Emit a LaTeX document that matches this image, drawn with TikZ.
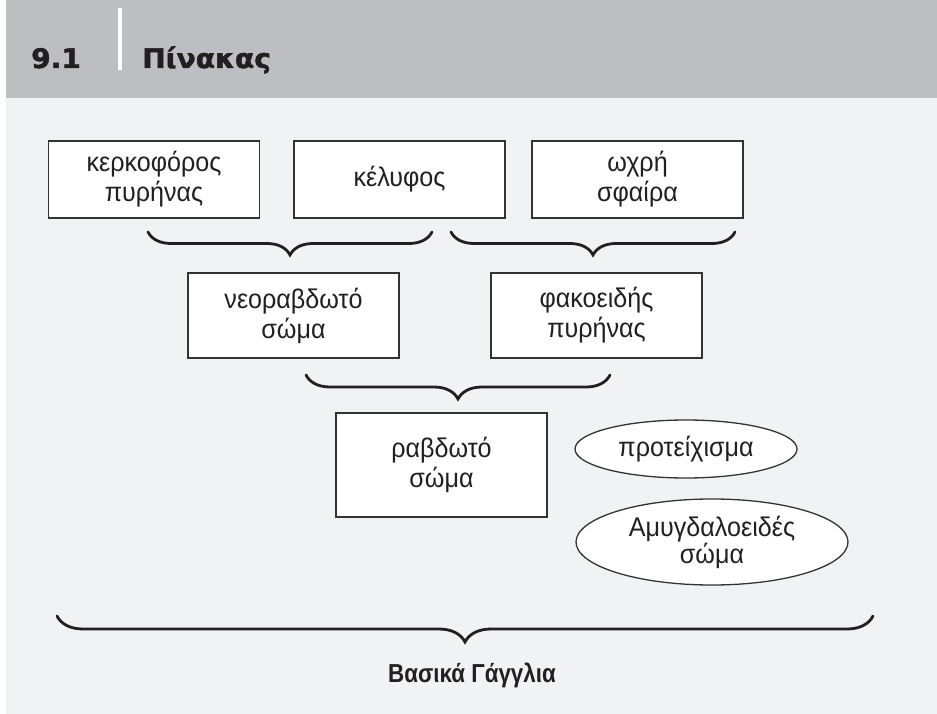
\documentclass[tikz,border=0pt]{standalone}
\usepackage{fontspec}
\setmainfont{Liberation Sans}[FakeStretch=0.93]
\newfontfamily\labfont{Liberation Sans}[FakeStretch=0.86]
\newfontfamily\headfont{DejaVu Sans}[FakeStretch=1.04,FakeBold=1.6]
\usetikzlibrary{shapes.geometric,decorations.pathreplacing}
\definecolor{band}{HTML}{BDBEC1}
\definecolor{panel}{HTML}{F1F2F4}
\definecolor{ink}{HTML}{231F20}
\definecolor{edge}{HTML}{333333}
\tikzset{
  box/.style={draw=edge, line width=1.4pt, fill=white, minimum width=211pt,
    align=center, inner sep=0pt, text=ink, font=\fontsize{27}{30}\selectfont},
  oval/.style={ellipse, draw=edge, line width=1.3pt, fill=white, inner sep=0pt,
    align=center, text=ink},
  brc/.style={decorate, decoration={brace, mirror, amplitude=#1}, line width=2.8pt,
    draw=ink, line cap=round},
  headtxt/.style={anchor=base west, inner sep=0pt, text=ink,
    font=\headfont\bfseries\fontsize{27}{28}\selectfont}
}
\begin{document}
\begin{tikzpicture}[x=1pt,y=-1pt]
\useasboundingbox (0,0) rectangle (937,714);
\fill[white] (0,0) rectangle (937,714);
\fill[band] (6,0) rectangle (937,98);
\fill[panel] (6,98) rectangle (937,714);
\fill[white] (118,8) rectangle (122,70);
\node[headtxt] (num) at (31,68) {9.1};
\node[headtxt] (title) at (142,68) {Πίνακας};

\node[box, minimum height=77pt] (kp) at (154,179.5) {κερκοφόρος\\πυρήνας};
\node[box, minimum height=77pt] (kel) at (399.5,179.5) {κέλυφος};
\node[box, minimum height=77pt] (wx) at (637.5,179.5) {ωχρή\\σφαίρα};
\node[box, minimum height=85pt] (neo) at (293.5,315.5) {νεοραβδωτό\\σώμα};
\node[box, minimum height=85pt] (fak) at (596.5,315.5) {φακοειδής\\πυρήνας};
\node[box, minimum height=104pt] (rab) at (441.5,465) {ραβδωτό\\σώμα};

\node[oval, minimum width=222pt, minimum height=58pt,
  font=\fontsize{27}{30}\selectfont] (prot) at (686,449) {προτείχισμα};
\node[oval, minimum width=272pt, minimum height=86pt,
  font=\fontsize{27}{25}\selectfont] (amy) at (712,542) {Αμυγδαλοειδές\\σώμα};

\coordinate (b1s) at (148,232);
\coordinate (b1e) at (432,232);
\coordinate (b2s) at (451,232);
\coordinate (b2e) at (735,232);
\coordinate (b3s) at (306,375);
\coordinate (b3e) at (610,375);
\coordinate (b4s) at (57,616);
\coordinate (b4e) at (873,616);
\draw[brc=23pt] (b1s) -- (b1e);
\draw[brc=23pt] (b2s) -- (b2e);
\draw[brc=24pt] (b3s) -- (b3e);
\draw[brc=26pt] (b4s) -- (b4e);

\node[anchor=base, inner sep=0pt, text=ink,
  font=\labfont\bfseries\fontsize{26}{28}\selectfont] (bg) at (472,682) {Βασικά Γάγγλια};
\end{tikzpicture}
\end{document}
